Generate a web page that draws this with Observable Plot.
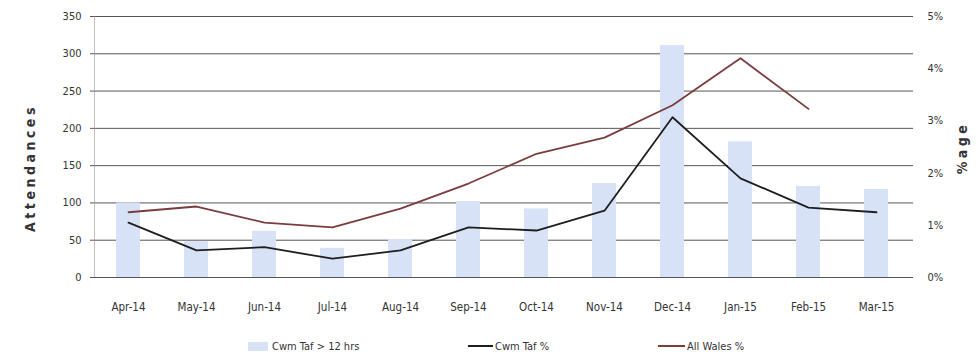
<!DOCTYPE html>
<html>
<head>
<meta charset="utf-8">
<script src="https://cdn.jsdelivr.net/npm/d3@7"></script>
<script src="https://cdn.jsdelivr.net/npm/@observablehq/plot@0.6"></script>
<style>
  html, body { margin: 0; padding: 0; background: #fff; }
  #wrap { position: relative; width: 979px; height: 361px; font-family: "Liberation Sans Narrow", "DejaVu Sans Condensed", sans-serif; color: #333; }
  #legend { position: absolute; top: 337px; left: 0; width: 979px; height: 18px; font-size: 11px; }
  .item { position: absolute; top: 0; display: flex; align-items: center; height: 18px; }
  .swatch-bar { width: 20px; height: 9px; background: #d8e2f6; margin-right: 4px; }
  .swatch-line { height: 2px; margin-right: 2px; }
</style>
</head>
<body>
<div id="wrap">
  <div id="chart"></div>
  <div id="legend">
    <div class="item" style="left:248px"><span class="swatch-bar"></span>Cwm Taf &gt; 12 hrs</div>
    <div class="item" style="left:468px"><span class="swatch-line" style="width:25px;background:#1e1e1e"></span>Cwm Taf %</div>
    <div class="item" style="left:658px"><span class="swatch-line" style="width:27px;background:#7a3c3c"></span>All Wales %</div>
  </div>
</div>
<script>
// Months of the 2014/15 reporting year
const months = ["Apr-14", "May-14", "Jun-14", "Jul-14", "Aug-14", "Sep-14",
                "Oct-14", "Nov-14", "Dec-14", "Jan-15", "Feb-15", "Mar-15"];

// Cwm Taf attendances waiting more than 12 hours (left axis)
const cwmTafOver12 = [100, 48, 62, 39, 51, 102, 92, 126, 311, 182, 122, 118];

// Percentage of attendances over 12 hours (right axis)
const cwmTafPct = [1.05, 0.52, 0.58, 0.36, 0.52, 0.96, 0.90, 1.28, 3.07, 1.90, 1.34, 1.25];
const allWalesPct = [1.25, 1.36, 1.05, 0.96, 1.32, 1.80, 2.37, 2.68, 3.30, 4.20, 3.23, null];

// Axis ticks
const leftTicks = [0, 50, 100, 150, 200, 250, 300, 350];
const rightTicks = [0, 1, 2, 3, 4, 5];

// The right axis (0–5%) shares the frame with the left axis (0–350)
const pctToLeft = 350 / 5;

const bars = months.map((m, i) => ({month: m, value: cwmTafOver12[i]}));
const cwmLine = months.map((m, i) => ({month: m, pct: cwmTafPct[i]}));
const walesLine = months.map((m, i) => ({month: m, pct: allWalesPct[i]})).filter(d => d.pct != null);

const font = `"Liberation Sans Narrow", "DejaVu Sans Condensed", sans-serif`;

const chart = Plot.plot({
  width: 979,
  height: 320,
  marginLeft: 90,
  marginRight: 66,
  marginTop: 16,
  marginBottom: 43,
  style: {fontFamily: font, fontSize: "11px", color: "#333", background: "#fff"},
  x: {domain: months, padding: 0},
  y: {domain: [0, 350]},
  marks: [
    Plot.ruleY(leftTicks, {stroke: "#555", strokeWidth: 1}),
    Plot.barY(bars, {x: "month", y: "value", fill: "#d8e2f6", insetLeft: 22, insetRight: 22}),
    Plot.line(cwmLine, {x: "month", y: d => d.pct * pctToLeft, stroke: "#1e1e1e", strokeWidth: 1.8}),
    Plot.line(walesLine, {x: "month", y: d => d.pct * pctToLeft, stroke: "#7a3c3c", strokeWidth: 1.8}),
    Plot.axisX({tickSize: 0, tickPadding: 25, label: null, fontSize: 11.5}),
    Plot.axisY(leftTicks, {anchor: "left", tickSize: 0, tickPadding: 9, label: null}),
    Plot.axisY(rightTicks.map(t => t * pctToLeft), {
      anchor: "right", tickSize: 0, tickPadding: 14, label: null,
      tickFormat: d => `${Math.round(d / pctToLeft)}%`
    }),
    Plot.ruleX([0], {x: () => months[0], stroke: "#999", strokeWidth: 0.6, dx: -34, y1: 0, y2: 350}),
    Plot.text(["Attendances"], {frameAnchor: "left", textAnchor: "middle", rotate: -90, dx: -60, dy: 21, fontSize: 14, fontWeight: "bold", fill: "#333"}),
    Plot.text(["%age"], {frameAnchor: "right", textAnchor: "middle", rotate: -90, dx: 49, dy: 1, fontSize: 14, fontWeight: "bold", fill: "#333"})
  ]
});

// Spaced-out lettering for the two axis titles
d3.select(chart).selectAll("text")
  .filter(function() { return this.textContent === "Attendances" || this.textContent === "%age"; })
  .style("letter-spacing", "3.5px");

document.getElementById("chart").appendChild(chart);
</script>
</body>
</html>
